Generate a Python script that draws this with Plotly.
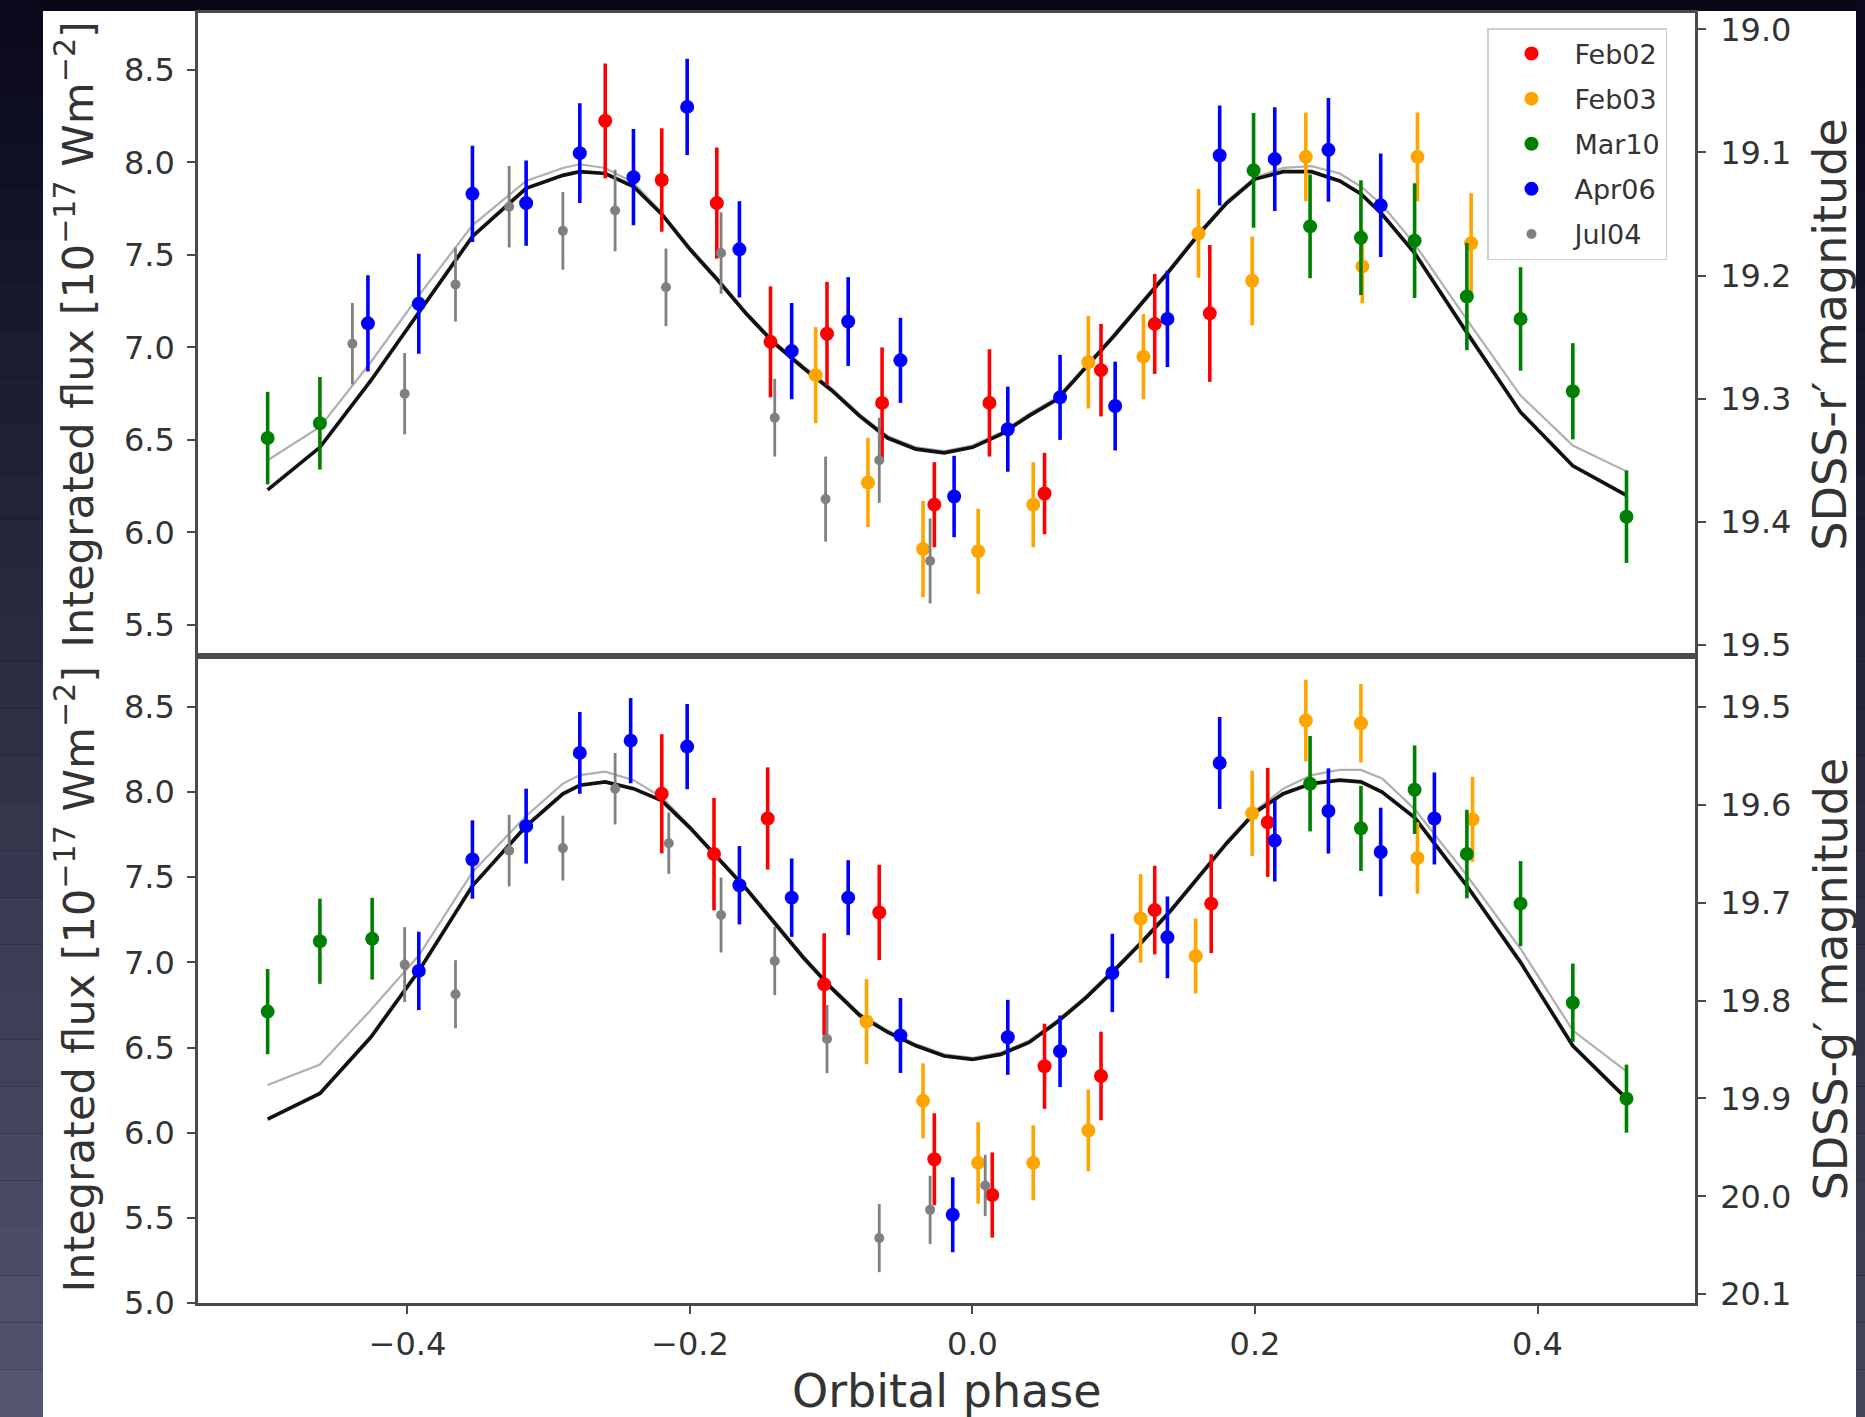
import plotly.graph_objects as go

W, H = 1865, 1417

series_names = ["Feb02", "Feb03", "Mar10", "Apr06", "Jul04"]
series_colors = ["#ff0000", "#ffa500", "#008000", "#0000ff", "#808080"]

# ---------------- top panel: SDSS-r' ----------------
r_feb02_phase = [-0.260, -0.220, -0.181, -0.143, -0.103, -0.064, -0.027, 0.012, 0.051, 0.091, 0.129, 0.168]
r_feb02_flux = [8.225, 7.905, 7.78, 7.03, 7.074, 6.70, 6.15, 6.70, 6.21, 6.877, 7.127, 7.184]
r_feb02_err = [0.31, 0.28, 0.30, 0.30, 0.28, 0.30, 0.23, 0.29, 0.22, 0.25, 0.27, 0.37]

r_feb03_phase = [-0.111, -0.074, -0.035, 0.004, 0.043, 0.082, 0.121, 0.160, 0.198, 0.236, 0.276, 0.315, 0.353]
r_feb03_flux = [6.85, 6.27, 5.91, 5.898, 6.15, 6.92, 6.95, 7.616, 7.36, 8.03, 7.438, 8.03, 7.563]
r_feb03_err = [0.26, 0.24, 0.26, 0.23, 0.23, 0.25, 0.23, 0.24, 0.24, 0.24, 0.20, 0.24, 0.27]

r_mar10_phase = [-0.499, -0.462, 0.199, 0.239, 0.275, 0.313, 0.350, 0.388, 0.425, 0.463]
r_mar10_flux = [6.51, 6.59, 7.957, 7.654, 7.593, 7.577, 7.275, 7.154, 6.763, 6.085]
r_mar10_err = [0.25, 0.25, 0.31, 0.28, 0.31, 0.31, 0.29, 0.28, 0.26, 0.25]

r_apr06_phase = [-0.428, -0.392, -0.354, -0.316, -0.278, -0.240, -0.202, -0.165, -0.128, -0.088,
                 -0.051, -0.013, 0.025, 0.062, 0.101, 0.138, 0.175, 0.214, 0.252, 0.289]
r_apr06_flux = [7.13, 7.236, 7.83, 7.78, 8.05, 7.92, 8.30, 7.53, 6.98, 7.14,
                6.93, 6.194, 6.558, 6.73, 6.683, 7.154, 8.037, 8.018, 8.068, 7.768]
r_apr06_err = [0.26, 0.27, 0.26, 0.23, 0.27, 0.26, 0.26, 0.26, 0.26, 0.24,
               0.23, 0.22, 0.23, 0.23, 0.24, 0.26, 0.27, 0.28, 0.28, 0.28]

r_jul04_phase = [-0.439, -0.402, -0.366, -0.328, -0.290, -0.253, -0.217, -0.178, -0.140, -0.104, -0.066, -0.030]
r_jul04_flux = [7.02, 6.75, 7.34, 7.76, 7.63, 7.74, 7.325, 7.51, 6.62, 6.18, 6.39, 5.846]
r_jul04_err = [0.22, 0.22, 0.20, 0.22, 0.21, 0.22, 0.21, 0.22, 0.21, 0.23, 0.23, 0.23]

# ---------------- bottom panel: SDSS-g' ----------------
g_feb02_phase = [-0.220, -0.183, -0.145, -0.105, -0.066, -0.027, 0.014, 0.051, 0.091, 0.129, 0.169, 0.209]
g_feb02_flux = [7.99, 7.636, 7.845, 6.871, 7.293, 5.844, 5.634, 6.39, 6.333, 7.307, 7.345, 7.822]
g_feb02_err = [0.35, 0.33, 0.30, 0.30, 0.28, 0.27, 0.25, 0.25, 0.26, 0.26, 0.29, 0.32]

g_feb03_phase = [-0.075, -0.035, 0.004, 0.043, 0.082, 0.119, 0.158, 0.198, 0.236, 0.275, 0.315, 0.354]
g_feb03_flux = [6.653, 6.187, 5.823, 5.823, 6.013, 7.258, 7.037, 7.875, 8.42, 8.404, 7.613, 7.84]
g_feb03_err = [0.25, 0.22, 0.24, 0.22, 0.24, 0.26, 0.22, 0.25, 0.24, 0.23, 0.21, 0.25]

g_mar10_phase = [-0.499, -0.462, -0.425, 0.239, 0.275, 0.313, 0.350, 0.388, 0.425, 0.463]
g_mar10_flux = [6.711, 7.124, 7.139, 8.049, 7.787, 8.014, 7.636, 7.345, 6.763, 6.20]
g_mar10_err = [0.25, 0.25, 0.24, 0.28, 0.25, 0.26, 0.26, 0.25, 0.23, 0.20]

g_apr06_phase = [-0.392, -0.354, -0.316, -0.278, -0.242, -0.202, -0.165, -0.128, -0.088, -0.051,
                 -0.014, 0.025, 0.062, 0.099, 0.138, 0.175, 0.214, 0.252, 0.289, 0.327]
g_apr06_flux = [6.95, 7.604, 7.80, 8.23, 8.302, 8.267, 7.453, 7.38, 7.38, 6.571,
                5.518, 6.56, 6.478, 6.938, 7.147, 8.171, 7.715, 7.889, 7.648, 7.845]
g_apr06_err = [0.23, 0.23, 0.22, 0.24, 0.25, 0.25, 0.23, 0.23, 0.22, 0.22,
               0.22, 0.22, 0.21, 0.23, 0.24, 0.27, 0.24, 0.25, 0.26, 0.27]

g_jul04_phase = [-0.402, -0.366, -0.328, -0.290, -0.253, -0.215, -0.178, -0.140, -0.103, -0.066, -0.030, 0.009]
g_jul04_flux = [6.987, 6.813, 7.656, 7.671, 8.02, 7.70, 7.278, 7.008, 6.55, 5.381, 5.547, 5.69]
g_jul04_err = [0.22, 0.20, 0.21, 0.19, 0.21, 0.18, 0.22, 0.20, 0.20, 0.20, 0.20, 0.18]

# ---------------- model curves ----------------
model_phase = [-0.499, -0.462, -0.426, -0.392, -0.354, -0.316, -0.29, -0.278, -0.26, -0.24, -0.22,
               -0.20, -0.18, -0.16, -0.14, -0.12, -0.10, -0.08, -0.06, -0.04, -0.02, 0.0, 0.02,
               0.04, 0.06, 0.08, 0.10, 0.12, 0.14, 0.16, 0.18, 0.20, 0.22, 0.24, 0.26, 0.275,
               0.29, 0.313, 0.35, 0.388, 0.425, 0.463]
r_model_black = [6.23, 6.46, 6.82, 7.19, 7.60, 7.86, 7.93, 7.95, 7.94, 7.87, 7.72,
                 7.53, 7.36, 7.18, 7.02, 6.89, 6.77, 6.63, 6.51, 6.45, 6.43, 6.46, 6.53,
                 6.63, 6.72, 6.89, 7.06, 7.24, 7.42, 7.61, 7.78, 7.91, 7.95, 7.95, 7.90, 7.83,
                 7.72, 7.51, 7.08, 6.65, 6.36, 6.20]
r_model_gray = [6.39, 6.57, 6.92, 7.28, 7.66, 7.90, 7.97, 7.99, 7.97, 7.89, 7.73,
                7.54, 7.37, 7.19, 7.03, 6.90, 6.78, 6.64, 6.52, 6.46, 6.44, 6.47, 6.54,
                6.64, 6.73, 6.90, 7.07, 7.25, 7.43, 7.62, 7.79, 7.92, 7.97, 7.98, 7.94, 7.87,
                7.77, 7.56, 7.15, 6.74, 6.47, 6.33]
g_model_black = [6.08, 6.23, 6.56, 6.95, 7.45, 7.80, 7.99, 8.04, 8.06, 8.02, 7.95,
                 7.79, 7.61, 7.43, 7.23, 7.03, 6.85, 6.69, 6.59, 6.51, 6.45, 6.43, 6.46,
                 6.53, 6.65, 6.79, 6.95, 7.12, 7.30, 7.50, 7.70, 7.88, 7.99, 8.05, 8.07, 8.06,
                 8.00, 7.85, 7.45, 7.00, 6.51, 6.20]
g_model_gray = [6.28, 6.40, 6.72, 7.04, 7.53, 7.86, 8.05, 8.10, 8.12, 8.07, 7.97,
                7.80, 7.62, 7.44, 7.24, 7.04, 6.86, 6.70, 6.60, 6.52, 6.46, 6.44, 6.47,
                6.54, 6.66, 6.80, 6.96, 7.13, 7.31, 7.51, 7.71, 7.89, 8.02, 8.10, 8.13, 8.13,
                8.08, 7.90, 7.51, 7.08, 6.60, 6.36]

flux_ticks_top = [5.5, 6.0, 6.5, 7.0, 7.5, 8.0, 8.5]
flux_ticks_bot = [5.0, 5.5, 6.0, 6.5, 7.0, 7.5, 8.0, 8.5]
mag_ticks_r = [19.0, 19.1, 19.2, 19.3, 19.4, 19.5]
mag_ticks_g = [19.5, 19.6, 19.7, 19.8, 19.9, 20.0, 20.1]
phase_ticks = [-0.4, -0.2, 0.0, 0.2, 0.4]

top_series = [
    (r_feb02_phase, r_feb02_flux, r_feb02_err),
    (r_feb03_phase, r_feb03_flux, r_feb03_err),
    (r_mar10_phase, r_mar10_flux, r_mar10_err),
    (r_apr06_phase, r_apr06_flux, r_apr06_err),
    (r_jul04_phase, r_jul04_flux, r_jul04_err),
]
bot_series = [
    (g_feb02_phase, g_feb02_flux, g_feb02_err),
    (g_feb03_phase, g_feb03_flux, g_feb03_err),
    (g_mar10_phase, g_mar10_flux, g_mar10_err),
    (g_apr06_phase, g_apr06_flux, g_apr06_err),
    (g_jul04_phase, g_jul04_flux, g_jul04_err),
]

FONT = "DejaVu Sans"
TXT = "#333333"
AXC = "#4a4a4a"

fig = go.Figure()

# model curves
for xa, ya, gray, black in [("x2", "y", r_model_gray, r_model_black),
                            ("x", "y2", g_model_gray, g_model_black)]:
    fig.add_trace(go.Scatter(x=model_phase, y=gray, mode="lines", xaxis=xa, yaxis=ya,
                             line=dict(color="#b0b0b0", width=2.2), showlegend=False, hoverinfo="skip"))
    fig.add_trace(go.Scatter(x=model_phase, y=black, mode="lines", xaxis=xa, yaxis=ya,
                             line=dict(color="#111111", width=3.7), showlegend=False, hoverinfo="skip"))

# data points
for panel, (xa, ya, series) in enumerate([("x2", "y", top_series), ("x", "y2", bot_series)]):
    for i, (ph, fl, er) in enumerate(series):
        is_gray = series_names[i] == "Jul04"
        fig.add_trace(go.Scatter(
            x=ph, y=fl, mode="markers", xaxis=xa, yaxis=ya,
            name=series_names[i], legendgroup=series_names[i], showlegend=(panel == 0),
            marker=dict(color=series_colors[i], size=10 if is_gray else 14, line=dict(width=0)),
            error_y=dict(type="data", array=er, visible=True, color=series_colors[i],
                         thickness=2.8 if is_gray else 3.6, width=0),
        ))

x_dom = [198 / W, 1695 / W]
top_dom = [1 - 656 / H, 1 - 13.3 / H]
bot_dom = [1 - 1303 / H, 1 - 656 / H]

common_axis = dict(showline=True, linecolor=AXC, linewidth=2.6, ticks="outside", ticklen=8,
                   tickwidth=2, tickcolor=AXC, showgrid=False, zeroline=False, automargin=False,
                   tickfont=dict(family=FONT, size=32, color=TXT))

fig.update_layout(
    width=W, height=H, autosize=False,
    margin=dict(l=0, r=0, t=0, b=0, pad=0, autoexpand=False),
    paper_bgcolor="#08081a",
    plot_bgcolor="white",
    font=dict(family=FONT, color=TXT),
    xaxis=dict(domain=x_dom, anchor="y2", range=[-0.5483, 0.5115], tickvals=phase_ticks,
               tickformat=".1f", mirror=True, ticklabelstandoff=3, **common_axis),
    xaxis2=dict(domain=x_dom, anchor="y", matches="x", range=[-0.5483, 0.5115],
                tickvals=phase_ticks, showticklabels=False, mirror=True,
                **{k: v for k, v in common_axis.items() if k != "ticks"}, ticks=""),
    yaxis=dict(domain=top_dom, anchor="x2", range=[5.332, 8.806], tickvals=flux_ticks_top,
               tickformat=".1f", mirror=True, ticklabelstandoff=6, **common_axis),
    yaxis2=dict(domain=bot_dom, anchor="x", range=[5.0, 8.799], tickvals=flux_ticks_bot,
                tickformat=".1f", mirror=True, ticklabelstandoff=6, **common_axis),
    yaxis3=dict(overlaying="y", anchor="x2", side="right", range=[19.509, 18.987],
                tickvals=mag_ticks_r, tickformat=".1f", ticklabelstandoff=8, **common_axis),
    yaxis4=dict(overlaying="y2", anchor="x", side="right", range=[20.109, 19.448],
                tickvals=mag_ticks_g, tickformat=".1f", ticklabelstandoff=8, **common_axis),
    legend=dict(x=1487 / W, y=1 - 28 / H, xanchor="left", yanchor="top",
                bgcolor="rgba(255,255,255,0.85)", bordercolor="#cfcfcf", borderwidth=1.5,
                font=dict(family=FONT, size=27, color=TXT), tracegroupgap=7,
                traceorder="grouped", itemwidth=76),
)

# secondary (magnitude) axes are attached to empty traces so that they render
fig.add_trace(go.Scatter(x=[None], y=[None], xaxis="x2", yaxis="y3", showlegend=False, hoverinfo="skip"))
fig.add_trace(go.Scatter(x=[None], y=[None], xaxis="x", yaxis="y4", showlegend=False, hoverinfo="skip"))

# background: slide with dark gradient edges
shapes = [dict(type="rect", xref="paper", yref="paper", x0=43 / W, x1=1856 / W, y0=-0.01, y1=1 - 11 / H,
               fillcolor="white", line=dict(width=0), layer="below")]
nb = 30
top_c = (8, 8, 26)
bot_c = (84, 86, 112)
for k in range(nb):
    t = (k + 0.5) / nb
    c = tuple(int(round(top_c[j] + (bot_c[j] - top_c[j]) * t)) for j in range(3))
    col = "rgb(%d,%d,%d)" % c
    y1 = 1 - k / nb
    y0 = 1 - (k + 1) / nb
    shapes.append(dict(type="rect", xref="paper", yref="paper", x0=0, x1=43 / W, y0=y0, y1=y1,
                       fillcolor=col, line=dict(width=0), layer="below"))
    c2 = tuple(int(round(top_c[j] + (bot_c[j] * 0.8 - top_c[j]) * t)) for j in range(3))
    shapes.append(dict(type="rect", xref="paper", yref="paper", x0=1856 / W, x1=1, y0=y0, y1=y1,
                       fillcolor="rgb(%d,%d,%d)" % c2, line=dict(width=0), layer="below"))
fig.update_layout(shapes=shapes)

ylab = "Integrated flux [10<sup>−17</sup> Wm<sup>−2</sup>]"
ann = [
    dict(text=ylab, x=75 / W, y=(top_dom[0] + top_dom[1]) / 2, textangle=-90, size=43),
    dict(text=ylab, x=75 / W, y=(bot_dom[0] + bot_dom[1]) / 2, textangle=-90, size=43),
    dict(text="SDSS-r′ magnitude", x=1830 / W, y=(top_dom[0] + top_dom[1]) / 2, textangle=-90, size=46),
    dict(text="SDSS-g′ magnitude", x=1830 / W, y=(bot_dom[0] + bot_dom[1]) / 2, textangle=-90, size=46),
    dict(text="Orbital phase", x=947 / W, y=1 - 1391 / H, textangle=0, size=46),
]
final_ann = []
for a in ann:
    sz = a.pop("size")
    a.update(xref="paper", yref="paper", showarrow=False, xanchor="center", yanchor="middle",
             font=dict(family=FONT, size=sz, color=TXT))
    final_ann.append(a)
fig.update_layout(annotations=final_ann)

fig.write_html("out.html")
